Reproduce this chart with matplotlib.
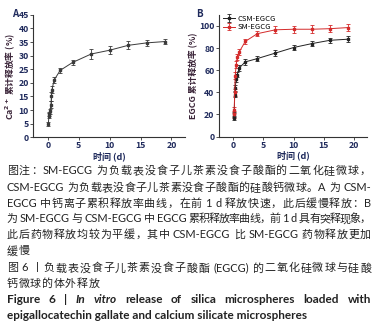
"""
EGCG 载药微球体外释放曲线 (图 6) 재현
"""
import re

import matplotlib.pyplot as plt

plt.rcParams['font.family'] = ['Noto Sans CJK SC', 'DejaVu Sans']

# A: Ca2+ 累计释放率
t_a = [0.08, 0.17, 0.25, 0.33, 0.5, 0.58, 0.67, 1, 2, 4, 7, 10, 13, 16, 19]
ca_rel = [4.9, 8.0, 8.5, 9.5, 12.0, 15.0, 17.5, 21.0, 24.6, 27.5, 30.6, 32.0, 33.8, 34.7, 35.2]
ca_err = [0.8, 0.8, 0.8, 1.0, 1.2, 1.5, 1.2, 1.0, 1.0, 0.9, 1.8, 1.5, 1.5, 1.0, 1.0]

# B: EGCG 累计释放率
t_b = [0.08, 0.17, 0.25, 0.33, 0.5, 0.67, 1, 2, 4, 7, 10, 13, 16, 19]
csm_rel = [17.0, 20.0, 38.0, 44.0, 52.0, 56.0, 62.0, 67.5, 70.5, 75.5, 80.5, 84.0, 87.0, 88.0]
csm_err = [2.0, 2.0, 2.5, 2.5, 3.0, 2.5, 2.5, 2.5, 2.0, 2.5, 2.5, 2.5, 2.5, 2.5]
sm_rel = [20.0, 24.0, 40.0, 55.0, 65.0, 72.0, 76.5, 86.0, 93.0, 96.5, 97.0, 97.0, 97.5, 98.5]
sm_err = [3.0, 3.0, 3.0, 3.0, 3.0, 2.5, 2.5, 2.5, 2.5, 3.0, 3.0, 3.5, 3.0, 3.5]

x_ticks = [0, 5, 10, 15, 20]
y_ticks_a = list(range(0, 50, 5))
y_ticks_b = [0, 20, 40, 60, 80, 100]

caption_lines = [
    ('图注：SM-EGCG 为负载表没食子儿茶素没食子酸酯的二氧化硅微球，', True),
    ('CSM-EGCG 为负载表没食子儿茶素没食子酸酯的硅酸钙微球。A 为 CSM-', True),
    ('EGCG 中钙离子累积释放率曲线，在前 1 d 释放快速，此后缓慢释放：B', True),
    ('为 SM-EGCG 与 CSM-EGCG 中 EGCG 累积释放率曲线，前 1 d 具有突释现象，', True),
    ('此后药物释放均较为平缓，其中 CSM-EGCG 比 SM-EGCG 药物释放更加', True),
    ('缓慢', False),
]
title_cn = ['图 6 丨负载表没食子儿茶素没食子酸酯 (EGCG) 的二氧化硅微球与硅酸', '钙微球的体外释放']
title_en1 = [('Figure', 'normal'), ('6', 'normal'), ('|', 'normal'), ('In', 'italic'), ('vitro', 'italic'),
             ('release', 'normal'), ('of', 'normal'), ('silica', 'normal'), ('microspheres', 'normal'),
             ('loaded', 'normal'), ('with', 'normal')]
title_en2 = 'epigallocatechin gallate and calcium silicate microspheres'

TICK_C = '#1f2a5c'
LAB_C = '#3a2438'
TXT_C = '#222222'
W, H = 384, 330

fig = plt.figure(figsize=(W / 100, H / 100), dpi=100)


def style_axes(ax, yticks, ylim):
    ax.spines['top'].set_visible(False)
    ax.spines['right'].set_visible(False)
    for s in ['left', 'bottom']:
        ax.spines[s].set_linewidth(0.8)
        ax.spines[s].set_color('#333333')
    ax.set_xlim(-2.4, 22.2)
    ax.set_ylim(*ylim)
    ax.set_xticks(x_ticks)
    ax.set_yticks(yticks)
    ax.tick_params(direction='out', length=2, width=0.6, labelsize=6.3, colors='#333333',
                   labelcolor=TICK_C, pad=1)
    for lab in ax.get_xticklabels() + ax.get_yticklabels():
        lab.set_fontweight('bold')
    ax.set_xlabel('时间 (d)', fontsize=6.5, fontweight='bold', color=TICK_C, labelpad=0.5)


# A
ax_a = fig.add_axes([0.086, 0.584, 0.396, 0.371])
ax_a.errorbar(t_a, ca_rel, yerr=ca_err, color='#3a3a3a', lw=0.7, marker='s', ms=1.5,
              elinewidth=0.6, capsize=1.5, capthick=0.6)
style_axes(ax_a, y_ticks_a, (0, 45))
ax_a.set_ylabel('Ca$^{\\mathbf{2+}}$ 累计释放率 (%)', fontsize=6.3, fontweight='bold', color=LAB_C, labelpad=1)
fig.text(12 / W, 1 - 14 / H, 'A', fontsize=7, fontweight='bold', color=TICK_C, va='center')

# B
ax_b = fig.add_axes([0.5695, 0.586, 0.387, 0.369])
ax_b.errorbar(t_b, csm_rel, yerr=csm_err, color='#222222', lw=0.7, marker='s', ms=1.5,
              elinewidth=0.6, capsize=1.5, capthick=0.6, label='CSM-EGCG')
ax_b.errorbar(t_b, sm_rel, yerr=sm_err, color='#d42a2a', lw=0.7, marker='s', ms=1.5,
              elinewidth=0.6, capsize=1.5, capthick=0.6, label='SM-EGCG')
style_axes(ax_b, y_ticks_b, (0, 110))
ax_b.set_ylabel('EGCG 累计释放率 (%)', fontsize=6.3, fontweight='bold', color=LAB_C, labelpad=1)
ax_b.legend(loc='upper left', bbox_to_anchor=(0.0, 1.04), frameon=False, fontsize=5.5,
            handlelength=1.6, handletextpad=0.3, labelspacing=0.1, borderaxespad=0.2)
fig.text(196 / W, 1 - 14 / H, 'B', fontsize=7, fontweight='bold', color=TICK_C, va='center')

renderer = fig.canvas.get_renderer()
X0, X1 = 6.7, 371.0
CAP_FAM = ['Lato', 'Noto Sans CJK SC']


def tokens(s):
    # 한자/전각문자는 한 글자씩, 라틴 문자열은 단어 단위; 앞에 공백이 있었는지 기록
    out = []
    for m in re.finditer(r'(\s*)([A-Za-z0-9()\-|]+|[^\sA-Za-z0-9()\-|])', s):
        out.append((m.group(2), 'normal', len(m.group(1)) > 0))
    return out


def put_line(ypx, chunks, justify, size, weight='normal', family=CAP_FAM, space=0.25):
    px = size * 100 / 72
    ybase = 1 - (ypx + 0.36 * px) / H
    texts = []
    for txt, st, sp in chunks:
        t = fig.text(0, ybase, txt, fontsize=size, fontweight=weight, fontstyle=st,
                     family=family, color=TXT_C, va='baseline', ha='left')
        texts.append((t, sp))
    widths = [t.get_window_extent(renderer).width for t, _ in texts]
    extra = [space * px if sp and i > 0 else 0 for i, (_, sp) in enumerate(texts)]
    n = len(texts)
    if justify and n > 1:
        gap = (X1 - X0 - sum(widths) - sum(extra)) / (n - 1)
    else:
        gap = px * 0.06
    x = X0
    for (t, _), w, e in zip(texts, widths, extra):
        x += e
        t.set_x(x / W)
        x += w + gap


CAP_SIZE = 7.9
ys = [170, 187, 202.7, 218.3, 234, 250.5]
for ypx, (line, just) in zip(ys, caption_lines):
    put_line(ypx, tokens(line), just, CAP_SIZE)

put_line(267.5, tokens(title_cn[0]), True, CAP_SIZE)
put_line(283, tokens(title_cn[1]), False, CAP_SIZE)
put_line(299, [(w, st, True) for w, st in title_en1], True, 8.5, weight='bold', space=0)
fig.text(X0 / W, 1 - (315 + 0.36 * 8.5 * 100 / 72) / H, title_en2, fontsize=8.5, fontweight='bold',
         family=CAP_FAM, color=TXT_C, va='baseline', ha='left')

fig.savefig('out.png', dpi=100)
